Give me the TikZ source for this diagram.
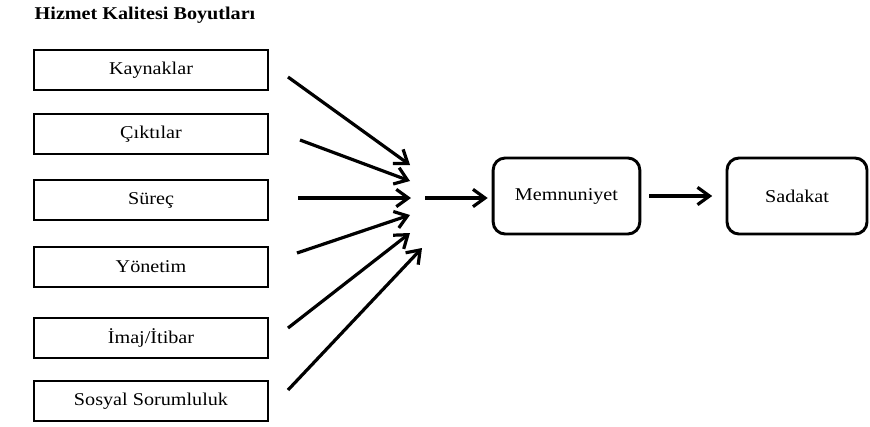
\documentclass[tikz,border=0pt]{standalone}
\usepackage{fontspec}
\setmainfont{Liberation Serif}[FakeStretch=1.12]
\usetikzlibrary{arrows.meta,positioning}

\begin{document}
\begin{tikzpicture}[x=0.75pt, y=-0.75pt,
  boyut/.style={draw, line width=2.2pt, minimum width=175.5pt, minimum height=30pt, font=\fontsize{13.5}{16}\selectfont},
  sonuc/.style={draw, line width=2.2pt, rounded corners=9pt, minimum height=57pt, font=\fontsize{13.5}{16}\selectfont},
  ok/.style={-{Straight Barb[length=9pt, width=13pt]}, line width=2.4pt},
]
\useasboundingbox (0,0) rectangle (870,426);

\node[font=\fontsize{13.5}{16}\selectfont\bfseries, anchor=west] (baslik) at (30,15) {Hizmet Kalitesi Boyutları};

\node[boyut] (kaynak) at (151,70) {Kaynaklar};
\node[boyut] (cikti) at (151,134) {Çıktılar};
\node[boyut] (surec) at (151,200) {Süreç};
\node[boyut] (yonetim) at (151,267) {Yönetim};
\node[boyut] (imaj) at (151,338) {İmaj/İtibar};
\node[boyut] (sosyal) at (151,401) {Sosyal Sorumluluk};

\node[sonuc, minimum width=110pt] (memnun) at (566.5,196) {Memnuniyet};
\node[sonuc, minimum width=105pt] (sadakat) at (797,196) {Sadakat};

% fan-in arrows
\coordinate (k-out) at (288,77);   \coordinate (k-in) at (410,165);
\coordinate (c-out) at (300,140);  \coordinate (c-in) at (410,181);
\coordinate (s-out) at (298,198);  \coordinate (s-in) at (411,198);
\coordinate (y-out) at (297,253);  \coordinate (y-in) at (410,215);
\coordinate (i-out) at (288,328);  \coordinate (i-in) at (410,233);
\coordinate (o-out) at (288,390);  \coordinate (o-in) at (422,248);
\coordinate (birlesim) at (425,198);

\draw[ok] (k-out) -- (k-in);
\draw[ok] (c-out) -- (c-in);
\draw[ok] (s-out) -- (s-in);
\draw[ok] (y-out) -- (y-in);
\draw[ok] (i-out) -- (i-in);
\draw[ok] (o-out) -- (o-in);

\draw[ok, shorten >=3pt] (birlesim) -- (memnun.west |- birlesim);
\draw[ok, shorten <=6pt, shorten >=10pt] (memnun) -- (sadakat);
\end{tikzpicture}
\end{document}
